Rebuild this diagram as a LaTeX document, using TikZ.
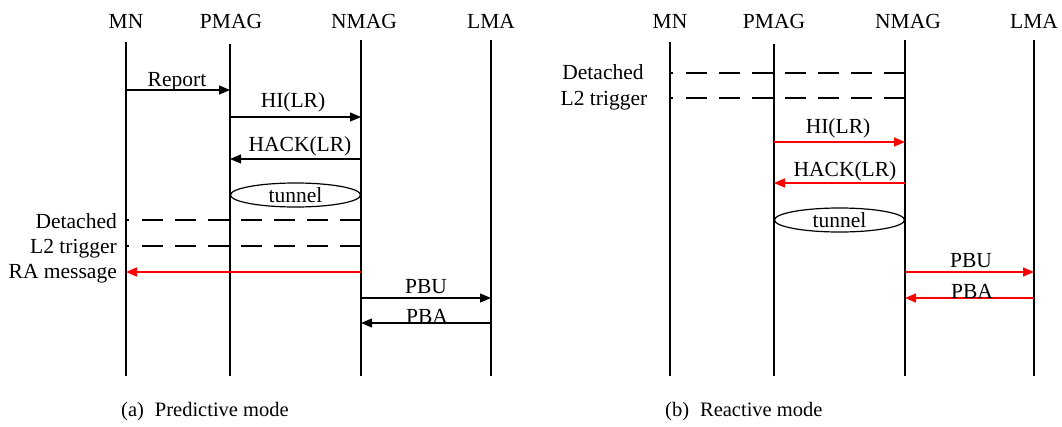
\documentclass[tikz,border=0pt]{standalone}
\usepackage{fontspec}
\setmainfont{Liberation Serif}
\usetikzlibrary{arrows.meta,shapes.geometric}
\begin{document}
\begin{tikzpicture}[x=1pt,y=-1pt,
  life/.style={line width=1.4pt},
  msg/.style={line width=1.2pt,-{Triangle[length=11pt,width=9pt]}},
  redmsg/.style={msg,red,line width=1.4pt},
  trig/.style={line width=1.2pt,dash pattern=on 2.5pt off 13.5pt on 21pt off 12pt on 21pt off 12pt on 21pt off 12pt on 21pt off 12pt on 21pt off 12pt on 21pt off 12pt on 21pt off 12pt on 21pt off 12pt},
  lbl/.style={font=\fontsize{21.5}{24}\selectfont, inner sep=0pt, anchor=base},
  captext/.style={font=\fontsize{20.5}{24}\selectfont, inner sep=0pt, anchor=base west},
  tun/.style={draw,ellipse,line width=1.2pt,minimum width=130pt,minimum height=24pt,inner sep=0pt,font=\fontsize{21.5}{24}\selectfont}]
\useasboundingbox (0,0) rectangle (1062,426);
% ---------- panel (a) ----------
\node[lbl] (hMNa)   at (126,28) {MN};
\node[lbl] (hPMAGa) at (231,28) {PMAG};
\node[lbl] (hNMAGa) at (364,28) {NMAG};
\node[lbl] (hLMAa)  at (491,28) {LMA};
\coordinate (mnA)   at (126,42);  \coordinate (mnAb)   at (126,376);
\coordinate (pmagA) at (230,44);  \coordinate (pmagAb) at (230,376);
\coordinate (nmagA) at (361,40);  \coordinate (nmagAb) at (361,376);
\coordinate (lmaA)  at (491,40);  \coordinate (lmaAb)  at (491,376);
\draw[life] (mnA) -- (mnAb);
\draw[life] (pmagA) -- (pmagAb);
\draw[life] (nmagA) -- (nmagAb);
\draw[life] (lmaA) -- (lmaAb);
\draw[msg] (mnA |- 0,90) -- (pmagA |- 0,90);
\node[lbl] (tRepA) at (177,86) {Report};
\draw[msg] (pmagA |- 0,117) -- (nmagA |- 0,117);
\node[lbl] (tHIA) at (293,107) {HI(LR)};
\draw[msg] (nmagA |- 0,159) -- (pmagA |- 0,159);
\node[lbl] (tHACKA) at (300,151) {HACK(LR)};
\node[tun] (tunA) at (295.5,195) {tunnel};
\draw[trig] (mnA |- 0,220) -- (nmagA |- 0,220);
\node[lbl,anchor=base east] (tDetA) at (117,228) {Detached};
\draw[trig] (mnA |- 0,246) -- (nmagA |- 0,246);
\node[lbl,anchor=base east] (tL2A) at (117,253) {L2 trigger};
\draw[redmsg] (nmagA |- 0,272) -- (mnA |- 0,272);
\node[lbl,anchor=base east] (tRAA) at (117,278) {RA message};
\draw[msg] (nmagA |- 0,298) -- (lmaA |- 0,298);
\node[lbl] (tPBUA) at (426,293) {PBU};
\draw[msg] (lmaA |- 0,323) -- (nmagA |- 0,323);
\node[lbl] (tPBAA) at (427,323) {PBA};
\node[captext] (capA) at (121,416) {(a)\hspace{11pt}Predictive mode};
% ---------- panel (b) ----------
\node[lbl] (hMNb)   at (670,28) {MN};
\node[lbl] (hPMAGb) at (774,28) {PMAG};
\node[lbl] (hNMAGb) at (908,28) {NMAG};
\node[lbl] (hLMAb)  at (1034,28) {LMA};
\coordinate (mnB)   at (670,42);  \coordinate (mnBb)   at (670,376);
\coordinate (pmagB) at (774,44);  \coordinate (pmagBb) at (774,376);
\coordinate (nmagB) at (905,40);  \coordinate (nmagBb) at (905,376);
\coordinate (lmaB)  at (1034,40); \coordinate (lmaBb)  at (1034,376);
\draw[life] (mnB) -- (mnBb);
\draw[life] (pmagB) -- (pmagBb);
\draw[life] (nmagB) -- (nmagBb);
\draw[life] (lmaB) -- (lmaBb);
\coordinate (dEndB1) at (907,73);
\coordinate (dEndB2) at (907,98);
\draw[trig] (mnB |- 0,73) -- (dEndB1);
\node[lbl] (tDetB) at (603,79) {Detached};
\draw[trig] (mnB |- 0,98) -- (dEndB2);
\node[lbl] (tL2B) at (604,105) {L2 trigger};
\draw[redmsg] (pmagB |- 0,142) -- (nmagB |- 0,142);
\node[lbl] (tHIB) at (838,133) {HI(LR)};
\draw[redmsg] (nmagB |- 0,183) -- (pmagB |- 0,183);
\node[lbl] (tHACKB) at (845,176) {HACK(LR)};
\node[tun] (tunB) at (839.5,220) {tunnel};
\draw[redmsg] (nmagB |- 0,272) -- (lmaB |- 0,272);
\node[lbl] (tPBUB) at (971,267) {PBU};
\draw[redmsg] (lmaB |- 0,298) -- (nmagB |- 0,298);
\node[lbl] (tPBAB) at (972,298) {PBA};
\node[captext] (capB) at (665,416) {(b)\hspace{11pt}Reactive mode};
\end{tikzpicture}
\end{document}
